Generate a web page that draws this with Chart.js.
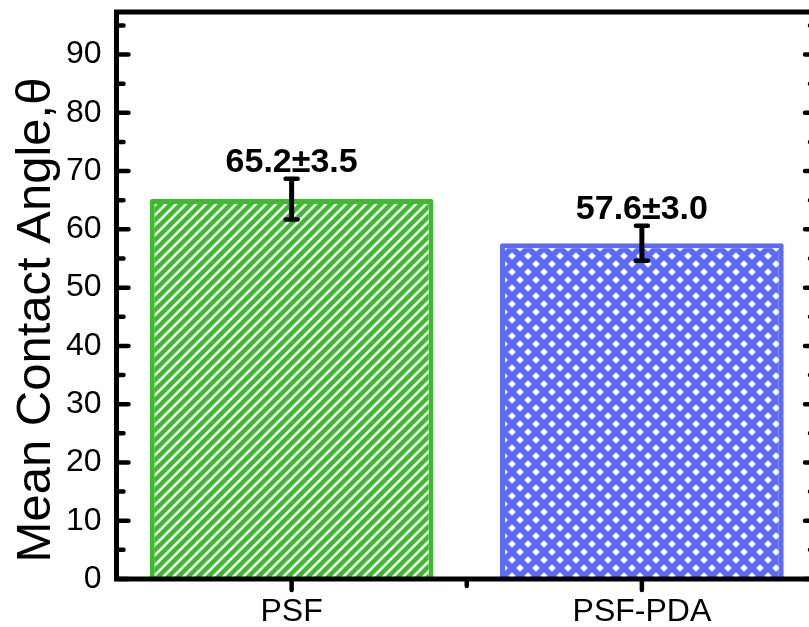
<!DOCTYPE html>
<html>
<head>
<meta charset="utf-8">
<script src="https://cdn.jsdelivr.net/npm/chart.js@4.4.1/dist/chart.umd.min.js"></script>
<style>
  html, body { margin: 0; padding: 0; background: #fff; overflow: hidden; }
  #wrap { width: 830px; height: 627px; }
</style>
</head>
<body>
<div id="wrap"><canvas id="angle-chart"></canvas></div>
<script>
  const categories = ["PSF", "PSF-PDA"];
  const meanAngles = [65.2, 57.6];
  const angleErrors = [3.5, 3.0];
  const yTickValues = [0, 10, 20, 30, 40, 50, 60, 70, 80, 90];
  const yMinorTicks = [5, 15, 25, 35, 45, 55, 65, 75, 85, 95];

  const FONT = "'Liberation Sans', Arial, sans-serif";
  const GREEN = "#3cbc2c";
  const BLUE = "#5b6bf7";

  // white "/" hatching on green
  function stripePattern(bg, fg) {
    const p = 10;
    const c = document.createElement("canvas");
    c.width = p; c.height = p;
    const g = c.getContext("2d");
    g.fillStyle = bg;
    g.fillRect(0, 0, p, p);
    g.strokeStyle = fg;
    g.lineWidth = 2.6;
    g.beginPath();
    g.moveTo(-1, p + 1); g.lineTo(p + 1, -1);
    g.moveTo(-1, 1); g.lineTo(1, -1);
    g.moveTo(p - 1, p + 1); g.lineTo(p + 1, p - 1);
    g.stroke();
    return g.createPattern(c, "repeat");
  }

  // staggered white diamonds on blue
  function diamondPattern(bg, fg) {
    const w = 16, h = 16, r = 3.8;
    const c = document.createElement("canvas");
    c.width = w; c.height = h;
    const g = c.getContext("2d");
    g.fillStyle = bg;
    g.fillRect(0, 0, w, h);
    g.fillStyle = fg;
    const centres = [[0, 0], [w, 0], [0, h], [w, h], [w / 2, h / 2]];
    centres.forEach(function (p) {
      g.beginPath();
      g.moveTo(p[0], p[1] - r);
      g.lineTo(p[0] + r, p[1]);
      g.lineTo(p[0], p[1] + r);
      g.lineTo(p[0] - r, p[1]);
      g.closePath();
      g.fill();
    });
    return g.createPattern(c, "repeat");
  }

  // closed frame with inward ticks on the y sides, outward ticks below
  const framePlugin = {
    id: "frame",
    afterDatasetsDraw(chart) {
      const ctx = chart.ctx;
      const a = chart.chartArea;
      const y = chart.scales.y;
      const x = chart.scales.x;
      ctx.save();
      ctx.strokeStyle = "#000";
      ctx.lineWidth = 5;
      ctx.strokeRect(a.left, a.top, a.right - a.left, a.bottom - a.top);

      ctx.lineWidth = 4.5;
      ctx.lineCap = "round";
      ctx.beginPath();
      yTickValues.forEach(function (v) {
        const py = y.getPixelForValue(v);
        ctx.moveTo(a.left, py); ctx.lineTo(a.left + 12, py);
        ctx.moveTo(a.right, py); ctx.lineTo(a.right - 12, py);
      });
      yMinorTicks.forEach(function (v) {
        const py = y.getPixelForValue(v);
        ctx.moveTo(a.left, py); ctx.lineTo(a.left + 7, py);
        ctx.moveTo(a.right, py); ctx.lineTo(a.right - 7, py);
      });
      categories.forEach(function (c, i) {
        const px = x.getPixelForValue(i);
        ctx.moveTo(px, a.bottom); ctx.lineTo(px, a.bottom + 11);
      });
      for (let i = 0; i < categories.length - 1; i++) {
        const px = x.getPixelForValue(i + 0.5);
        ctx.moveTo(px, a.bottom); ctx.lineTo(px, a.bottom + 7);
      }
      ctx.stroke();
      ctx.restore();
    }
  };

  // error bars plus "mean±sd" labels above them
  const errorBarPlugin = {
    id: "errorBars",
    afterDatasetsDraw(chart) {
      const ctx = chart.ctx;
      const y = chart.scales.y;
      const bars = chart.getDatasetMeta(0).data;
      ctx.save();
      ctx.strokeStyle = "#000";
      ctx.fillStyle = "#000";
      bars.forEach(function (bar, i) {
        const hi = y.getPixelForValue(meanAngles[i] + angleErrors[i]);
        const lo = y.getPixelForValue(meanAngles[i] - angleErrors[i]);
        const cx = bar.x;
        ctx.lineCap = "butt";
        ctx.lineWidth = 5;
        ctx.beginPath();
        ctx.moveTo(cx, hi); ctx.lineTo(cx, lo);
        ctx.stroke();
        ctx.lineCap = "round";
        ctx.lineWidth = 4.5;
        ctx.beginPath();
        ctx.moveTo(cx - 6, hi); ctx.lineTo(cx + 6, hi);
        ctx.moveTo(cx - 6, lo); ctx.lineTo(cx + 6, lo);
        ctx.stroke();

        ctx.font = "bold 34px " + FONT;
        ctx.textAlign = "center";
        ctx.textBaseline = "alphabetic";
        const label = meanAngles[i].toFixed(1) + "\u00b1" + angleErrors[i].toFixed(1);
        ctx.fillText(label, cx, hi - 7);
      });
      ctx.restore();
    }
  };

  const axisTitlePlugin = {
    id: "axisTitle",
    afterDraw(chart) {
      const ctx = chart.ctx;
      ctx.save();
      ctx.translate(50, 320);
      ctx.rotate(-Math.PI / 2);
      ctx.font = "49px " + FONT;
      ctx.fillStyle = "#000";
      ctx.textAlign = "center";
      ctx.textBaseline = "alphabetic";
      ctx.fillText("Mean Contact Angle,\u03b8", 0, 0);
      ctx.restore();
    }
  };

  new Chart(document.getElementById("angle-chart"), {
    type: "bar",
    data: {
      labels: categories,
      datasets: [{
        data: meanAngles,
        backgroundColor: [stripePattern(GREEN, "#fff"), diamondPattern(BLUE, "#fff")],
        borderColor: [GREEN, BLUE],
        borderWidth: 5,
        borderRadius: 2,
        borderSkipped: "start",
        categoryPercentage: 1,
        barPercentage: 0.81
      }]
    },
    options: {
      responsive: true,
      maintainAspectRatio: false,
      animation: false,
      devicePixelRatio: 1,
      layout: { padding: { top: 12, right: 13, left: 0, bottom: 0 } },
      plugins: {
        legend: { display: false },
        tooltip: { enabled: false }
      },
      scales: {
        x: {
          offset: true,
          grid: { display: false, drawTicks: false },
          border: { display: false },
          ticks: {
            color: "#000",
            font: { family: FONT, size: 32 },
            padding: 14,
            maxRotation: 0
          },
          afterFit: function (s) {
            s.height = 48;
            s.paddingLeft = 0;
            s.paddingRight = 0;
          }
        },
        y: {
          min: 0,
          max: 97.3,
          grid: { display: false, drawTicks: false },
          border: { display: false },
          ticks: {
            color: "#000",
            font: { family: FONT, size: 32 },
            padding: 15
          },
          afterBuildTicks: function (s) {
            s.ticks = yTickValues.map(function (v) { return { value: v }; });
          },
          afterFit: function (s) {
            s.width = 116.5;
            s.paddingTop = 0;
            s.paddingBottom = 0;
          }
        }
      }
    },
    plugins: [framePlugin, errorBarPlugin, axisTitlePlugin]
  });
</script>
</body>
</html>
